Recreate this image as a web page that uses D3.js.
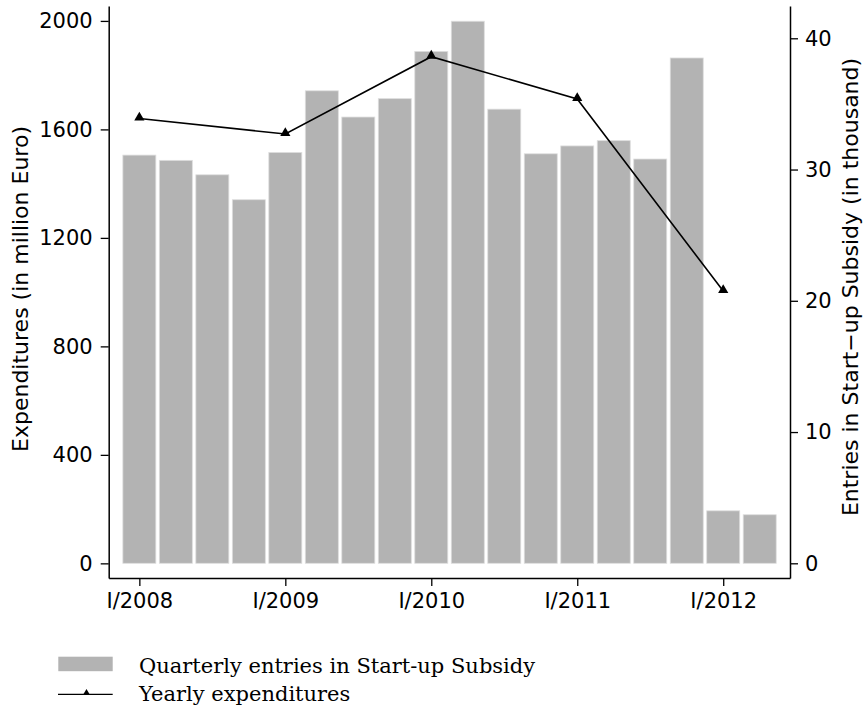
<!DOCTYPE html>
<html>
<head>
<meta charset="utf-8">
<script src="https://cdn.jsdelivr.net/npm/d3@7"></script>
<style>
 body { margin: 0; background: #fff; }
 svg { display: block; }
</style>
</head>
<body>
<svg width="865" height="711"></svg>
<script>
// quarterly entries (thousand), 2008Q1 .. 2012Q2
var quarters = ["I/2008","II/2008","III/2008","IV/2008","I/2009","II/2009","III/2009","IV/2009",
 "I/2010","II/2010","III/2010","IV/2010","I/2011","II/2011","III/2011","IV/2011","I/2012","II/2012"];
var entries = [31.1, 30.7, 29.6, 27.7, 31.3, 36.0, 34.0, 35.4, 39.0, 41.3, 34.6, 31.2, 31.8, 32.2, 30.8, 38.5, 4.0, 3.7];

// yearly expenditures (million Euro), plotted at the first quarter of each year
var years = ["I/2008","I/2009","I/2010","I/2011","I/2012"];
var expenditures = [1640, 1583, 1868, 1712, 1004];

var leftTicks = [0, 400, 800, 1200, 1600, 2000];
var rightTicks = [0, 10, 20, 30, 40];

var svg = d3.select("svg");
var plotL = 108.7, plotR = 790, plotT = 6, plotB = 578;
var tickFont = "'DejaVu Sans', sans-serif";

var x = d3.scaleLinear().domain([-0.84, 17.83]).range([plotL, plotR]);
var yL = d3.scaleLinear().domain([-54, 2055]).range([plotB, plotT]);
var yR = d3.scaleLinear().domain([-1.12, 42.46]).range([plotB, plotT]);
var barW = 33;

// bars
svg.selectAll(".bar")
 .data(entries)
 .enter()
 .append("rect")
 .attr("class", "bar")
 .attr("x", function(d, i) { return x(i) - barW / 2; })
 .attr("y", function(d) { return yR(d); })
 .attr("width", barW)
 .attr("height", function(d) { return yR(0) - yR(d); })
 .attr("fill", "#b3b3b3")
 .attr("stroke", "#dedede")
 .attr("stroke-width", 0.8);

// line
var line = d3.line()
 .x(function(d, i) { return x(quarters.indexOf(years[i])); })
 .y(function(d) { return yL(d); });

svg.append("path")
 .datum(expenditures)
 .attr("d", line)
 .attr("fill", "none")
 .attr("stroke", "#000")
 .attr("stroke-width", 1.6);

var tri = d3.symbol().type(d3.symbolTriangle).size(45);
svg.selectAll(".mark")
 .data(expenditures)
 .enter()
 .append("path")
 .attr("class", "mark")
 .attr("d", tri)
 .attr("transform", function(d, i) {
  return "translate(" + x(quarters.indexOf(years[i])) + "," + (yL(d) - 1) + ")";
 })
 .attr("fill", "#000");

// axes
var gL = svg.append("g")
 .attr("transform", "translate(" + plotL + ",0)")
 .call(d3.axisLeft(yL).tickValues(leftTicks).tickFormat(d3.format("d")).tickSize(8).tickPadding(8).tickSizeOuter(0));

var gR = svg.append("g")
 .attr("transform", "translate(" + plotR + ",0)")
 .call(d3.axisRight(yR).tickValues(rightTicks).tickFormat(d3.format("d")).tickSize(8).tickPadding(7).tickSizeOuter(0));

var gX = svg.append("g")
 .attr("transform", "translate(0," + plotB + ")")
 .call(d3.axisBottom(x)
  .tickValues(years.map(function(y) { return quarters.indexOf(y); }))
  .tickFormat(function(d) { return quarters[d]; })
  .tickSize(8).tickPadding(7).tickSizeOuter(0));

[gL, gR, gX].forEach(function(g) {
 g.select(".domain").attr("stroke-width", 1.5);
 g.selectAll(".tick line").attr("stroke-width", 1.3);
 g.selectAll("text").attr("font-family", tickFont).attr("font-size", "21px").attr("fill", "#000");
});

// axis titles
svg.append("text")
 .attr("transform", "translate(28,289) rotate(-90)")
 .attr("text-anchor", "middle")
 .attr("font-family", tickFont)
 .attr("font-size", "22px")
 .text("Expenditures (in million Euro)");

svg.append("text")
 .attr("transform", "translate(858,287) rotate(-90)")
 .attr("text-anchor", "middle")
 .attr("font-family", tickFont)
 .attr("font-size", "22px")
 .text("Entries in Start\u2212up Subsidy (in thousand)");

// legend
var legFont = "'DejaVu Serif', serif";
svg.append("rect")
 .attr("x", 58.3).attr("y", 656.7)
 .attr("width", 54.4).attr("height", 14.5)
 .attr("fill", "#b3b3b3");

svg.append("line")
 .attr("x1", 58).attr("x2", 112.7)
 .attr("y1", 694.3).attr("y2", 694.3)
 .attr("stroke", "#000").attr("stroke-width", 1.3);

svg.append("path")
 .attr("d", d3.symbol().type(d3.symbolTriangle).size(22))
 .attr("transform", "translate(86.5,693)")
 .attr("fill", "#000");

svg.append("text")
 .attr("x", 139).attr("y", 673)
 .attr("font-family", legFont)
 .attr("font-size", "21px")
 .text("Quarterly entries in Start-up Subsidy");

svg.append("text")
 .attr("x", 139).attr("y", 701)
 .attr("font-family", legFont)
 .attr("font-size", "21px")
 .text("Yearly expenditures");
</script>
</body>
</html>
